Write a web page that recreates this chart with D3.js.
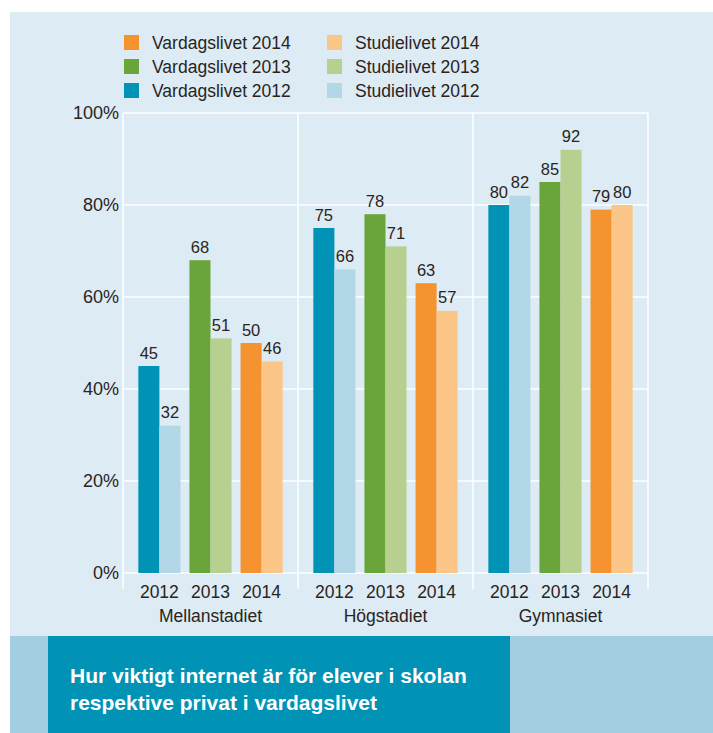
<!DOCTYPE html>
<html>
<head>
<meta charset="utf-8">
<script src="https://cdn.jsdelivr.net/npm/d3@7"></script>
<style>
  html, body { margin: 0; padding: 0; background: #ffffff; }
  svg { display: block; font-family: "Liberation Sans", Arial, Helvetica, sans-serif; }
</style>
</head>
<body>
<svg id="chart" width="713" height="733"></svg>
<script>
// School levels and survey years
const stages = ["Mellanstadiet", "Högstadiet", "Gymnasiet"];
const years = ["2012", "2013", "2014"];
const kinds = ["Vardagslivet", "Studielivet"];

// Share (%) who find the internet important, per stage, in year order 2012–2014
const vardagslivet = {
  "Mellanstadiet": [45, 68, 50],
  "Högstadiet":    [75, 78, 63],
  "Gymnasiet":     [80, 85, 79]
};
const studielivet = {
  "Mellanstadiet": [32, 51, 46],
  "Högstadiet":    [66, 71, 57],
  "Gymnasiet":     [82, 92, 80]
};

const yTicks = [0, 20, 40, 60, 80, 100];
const legendOrder = ["2014", "2013", "2012"];
const titleLines = ["Hur viktigt internet är för elever i skolan", "respektive privat i vardagslivet"];

const colors = {
  "Vardagslivet": { "2012": "#0093b5", "2013": "#6aa53c", "2014": "#f59331" },
  "Studielivet":  { "2012": "#b2d7e6", "2013": "#b8d08f", "2014": "#fbc687" }
};
const textColor = "#2a2421";

const svg = d3.select("#chart");

// Backgrounds
svg.append("rect").attr("x", 10).attr("y", 12).attr("width", 703).attr("height", 625).attr("fill", "#dcebf4");
svg.append("rect").attr("x", 10).attr("y", 636).attr("width", 703).attr("height", 97).attr("fill", "#a3cde0");
svg.append("rect").attr("x", 48).attr("y", 636).attr("width", 462).attr("height", 97).attr("fill", "#0093b5");

// Scales
const plot = { left: 123, right: 648, top: 113, bottom: 573 };
const y = d3.scaleLinear().domain([0, 100]).range([plot.bottom, plot.top]);
const x0 = d3.scaleBand().domain(stages).range([plot.left, plot.right]).padding(0);
const x1 = d3.scaleBand().domain(years).range([0, x0.bandwidth()]).paddingInner(0.176).paddingOuter(0.3);
const x2 = d3.scaleBand().domain(kinds).range([0, x1.bandwidth()]).padding(0);

// Grid
const grid = svg.append("g").attr("stroke", "#ffffff").attr("stroke-width", 1.5);
yTicks.forEach(t => {
  grid.append("line").attr("x1", plot.left).attr("x2", plot.right).attr("y1", y(t)).attr("y2", y(t));
});
const dividers = stages.map(s => x0(s)).concat([plot.right]);
dividers.forEach(d => {
  grid.append("line").attr("x1", d).attr("x2", d).attr("y1", plot.top).attr("y2", plot.bottom + 16);
});

// Y axis labels
const yAxis = d3.axisLeft(y).tickValues(yTicks).tickFormat(d => d + "%").tickSize(0).tickPadding(4);
const yg = svg.append("g").attr("transform", `translate(${plot.left},0)`).call(yAxis);
yg.select(".domain").remove();
yg.selectAll("text").attr("font-size", 18).attr("fill", textColor).attr("font-family", null);

// Bars
const rows = [];
stages.forEach(s => {
  years.forEach((yr, i) => {
    rows.push({ stage: s, year: yr, kind: "Vardagslivet", value: vardagslivet[s][i] });
    rows.push({ stage: s, year: yr, kind: "Studielivet", value: studielivet[s][i] });
  });
});
const barX = d => x0(d.stage) + x1(d.year) + x2(d.kind);

svg.append("g").selectAll("rect").data(rows).join("rect")
  .attr("x", barX)
  .attr("y", d => y(d.value))
  .attr("width", x2.bandwidth())
  .attr("height", d => y(0) - y(d.value))
  .attr("fill", d => colors[d.kind][d.year]);

svg.append("g").selectAll("text").data(rows).join("text")
  .attr("x", d => barX(d) + x2.bandwidth() / 2)
  .attr("y", d => y(d.value) - 7.5)
  .attr("text-anchor", "middle")
  .attr("font-size", 16.5)
  .attr("fill", textColor)
  .text(d => d.value);

// X axis labels: years and stages
const xl = svg.append("g");
stages.forEach(s => {
  years.forEach(yr => {
    xl.append("text")
      .attr("x", x0(s) + x1(yr) + x1.bandwidth() / 2)
      .attr("y", 598)
      .attr("text-anchor", "middle")
      .attr("font-size", 17.5)
      .attr("fill", textColor)
      .text(yr);
  });
  xl.append("text")
    .attr("x", x0(s) + x0.bandwidth() / 2)
    .attr("y", 622)
    .attr("text-anchor", "middle")
    .attr("font-size", 17.5)
    .attr("fill", textColor)
    .text(s);
});

// Legend
const legend = svg.append("g");
kinds.forEach((k, ci) => {
  const lx = ci === 0 ? 124 : 327;
  legendOrder.forEach((yr, ri) => {
    const ly = 35 + ri * 24;
    legend.append("rect").attr("x", lx).attr("y", ly).attr("width", 15).attr("height", 15)
      .attr("fill", colors[k][yr]);
    legend.append("text").attr("x", lx + 28).attr("y", ly + 14)
      .attr("font-size", 17.5).attr("fill", textColor)
      .text(`${k} ${yr}`);
  });
});

// Title
const title = svg.append("g");
titleLines.forEach((line, i) => {
  title.append("text")
    .attr("x", 70)
    .attr("y", 683 + i * 27)
    .attr("font-size", 21)
    .attr("font-weight", "bold")
    .attr("fill", "#ffffff")
    .text(line);
});
</script>
</body>
</html>
